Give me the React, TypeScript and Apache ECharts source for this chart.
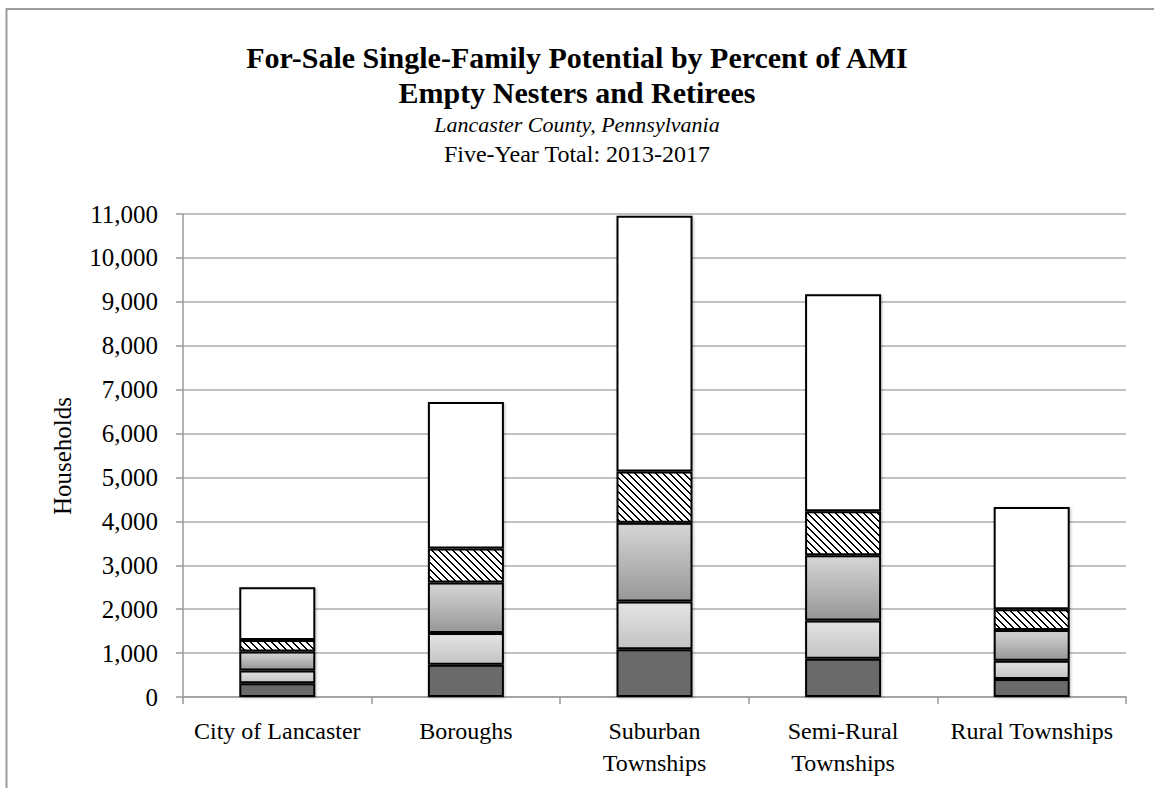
import React, { useEffect, useRef } from 'react';
import * as echarts from 'echarts';

// Geographic submarkets along the category axis
const categories = [
  'City of Lancaster',
  'Boroughs',
  'Suburban\nTownships',
  'Semi-Rural\nTownships',
  'Rural Townships',
];

// Households per AMI tier, stacked bottom to top
const tier1 = [315, 735, 1090, 870, 410];
const tier2 = [290, 720, 1085, 875, 415];
const tier3 = [430, 1155, 1795, 1485, 700];
const tier4 = [265, 770, 1165, 1000, 475];
const tier5 = [1200, 3340, 5825, 4940, 2325];

const yTicks = { min: 0, max: 11000, interval: 1000 };

const SERIF = "'Liberation Serif', 'DejaVu Serif', 'Times New Roman', serif";

// Small tile with a downward diagonal stripe, repeated as the hatch fill
function makeHatch(): HTMLCanvasElement {
  const size = 7;
  const c = document.createElement('canvas');
  c.width = size;
  c.height = size;
  const ctx = c.getContext('2d')!;
  ctx.fillStyle = '#ffffff';
  ctx.fillRect(0, 0, size, size);
  ctx.fillStyle = '#000000';
  for (let i = 0; i < size; i++) {
    ctx.fillRect(i, i, 2, 1);
    if (i === size - 1) ctx.fillRect(0, i, 1, 1);
  }
  return c;
}

export default function App() {
  const ref = useRef<HTMLDivElement>(null);

  useEffect(() => {
    if (!ref.current) return;
    const chart = echarts.init(ref.current, null, { renderer: 'svg' });

    const barBase = {
      type: 'bar' as const,
      stack: 'total',
      barWidth: 76,
      itemStyle: {
        borderColor: '#000',
        borderWidth: 2,
        shadowBlur: 3,
        shadowColor: 'rgba(0,0,0,0.25)',
        shadowOffsetX: 1,
        shadowOffsetY: 1,
      },
    };

    const vGrad = (top: string, bottom: string) =>
      new echarts.graphic.LinearGradient(0, 0, 0, 1, [
        { offset: 0, color: top },
        { offset: 1, color: bottom },
      ]);

    const centered = (text: string, y: number, font: string) => ({
      type: 'text',
      x: 577,
      y,
      style: { text, font, fill: '#000', textAlign: 'center', textVerticalAlign: 'middle' },
    });

    const option: any = {
      animation: false,
      backgroundColor: '#ffffff',
      textStyle: { fontFamily: SERIF },
      grid: { left: 183, right: 28, top: 214, bottom: 91, containLabel: false },
      xAxis: {
        type: 'category',
        data: categories,
        axisLine: { lineStyle: { color: '#9a9a9a', width: 1.5 } },
        axisTick: { show: true, length: 7, inside: false, lineStyle: { color: '#9a9a9a', width: 1.5 } },
        axisLabel: {
          color: '#000',
          fontFamily: SERIF,
          fontSize: 24,
          lineHeight: 32,
          margin: 18,
          interval: 0,
        },
      },
      yAxis: {
        type: 'value',
        min: yTicks.min,
        max: yTicks.max,
        interval: yTicks.interval,
        axisLine: { show: true, lineStyle: { color: '#9a9a9a', width: 1.5 } },
        axisTick: { show: true, length: 7, lineStyle: { color: '#9a9a9a', width: 1.5 } },
        splitLine: { lineStyle: { color: '#acacac', width: 1.5 } },
        axisLabel: {
          color: '#000',
          fontFamily: SERIF,
          fontSize: 25,
          margin: 25,
          formatter: (v: number) => v.toLocaleString('en-US'),
        },
      },
      series: [
        { ...barBase, name: 'tier1', data: tier1, itemStyle: { ...barBase.itemStyle, color: '#6b6b6b' } },
        { ...barBase, name: 'tier2', data: tier2, itemStyle: { ...barBase.itemStyle, color: vGrad('#e4e4e4', '#c3c3c3') } },
        { ...barBase, name: 'tier3', data: tier3, itemStyle: { ...barBase.itemStyle, color: vGrad('#d6d6d6', '#979797') } },
        { ...barBase, name: 'tier4', data: tier4, itemStyle: { ...barBase.itemStyle, color: { image: makeHatch(), repeat: 'repeat' } } },
        { ...barBase, name: 'tier5', data: tier5, itemStyle: { ...barBase.itemStyle, color: '#ffffff' } },
      ],
      graphic: [
        {
          type: 'rect',
          silent: true,
          shape: { x: 6.5, y: 9, width: 1300, height: 1000 },
          style: { fill: 'none', stroke: '#9c9c9c', lineWidth: 2 },
        },
        centered('For-Sale Single-Family Potential by Percent of AMI', 57, `bold 30px ${SERIF}`),
        centered('Empty Nesters and Retirees', 92, `bold 30px ${SERIF}`),
        centered('Lancaster County, Pennsylvania', 124, `italic 22px ${SERIF}`),
        centered('Five-Year Total: 2013-2017', 154, `24px ${SERIF}`),
        {
          type: 'text',
          x: 62,
          y: 456,
          rotation: Math.PI / 2,
          style: {
            text: 'Households',
            font: `25px ${SERIF}`,
            fill: '#000',
            textAlign: 'center',
            textVerticalAlign: 'middle',
          },
        },
      ],
    };

    chart.setOption(option);
    return () => chart.dispose();
  }, []);

  return (
    <div
      ref={ref}
      style={{ position: 'absolute', left: 0, top: 0, width: 1154, height: 788, background: '#fff' }}
    />
  );
}
